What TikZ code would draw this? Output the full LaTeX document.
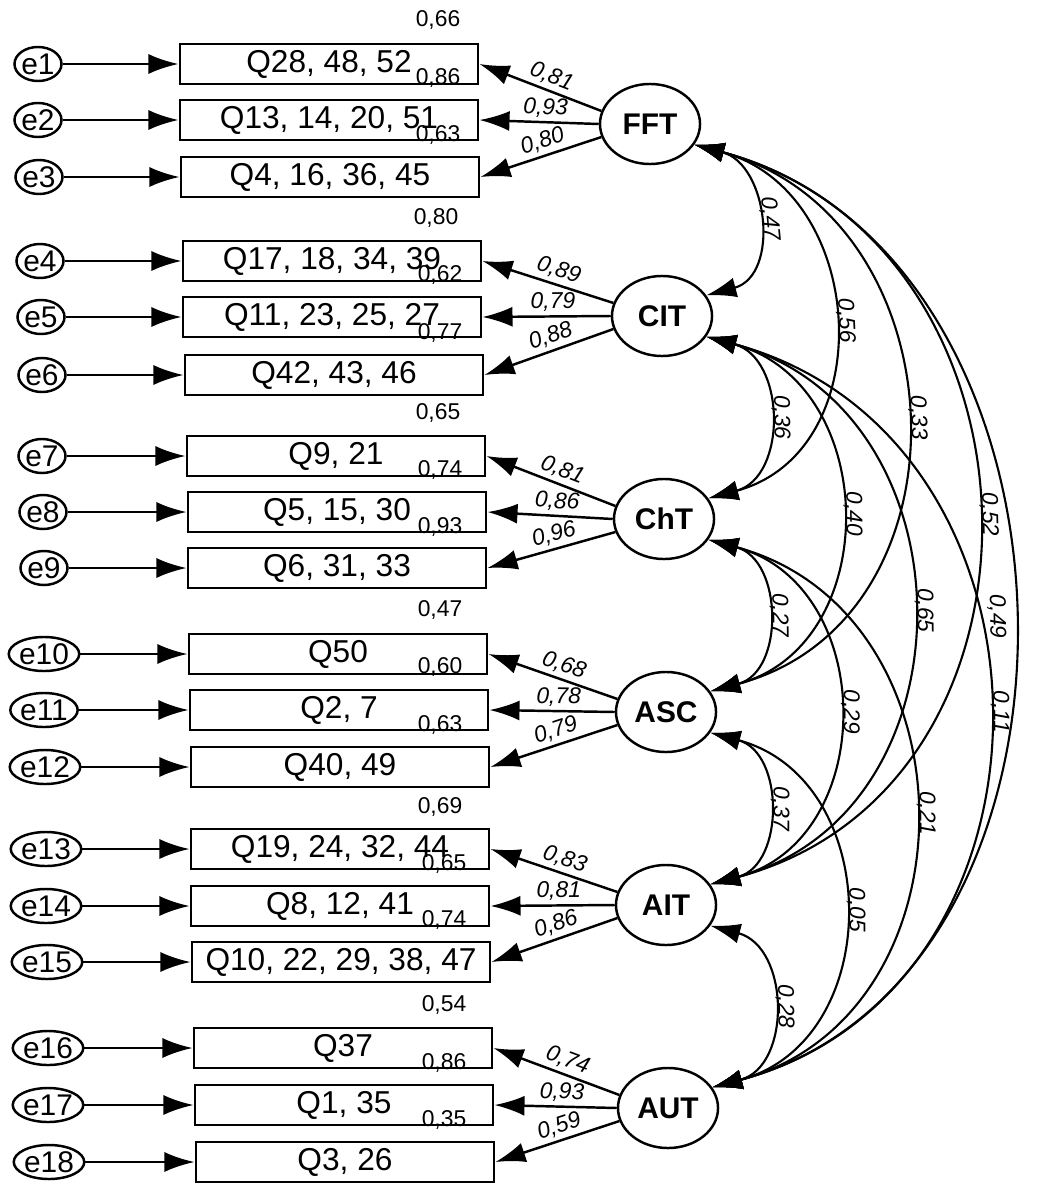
\documentclass[tikz,border=0pt]{standalone}
\usepackage{fontspec}
\setmainfont{Liberation Sans}
\usetikzlibrary{arrows.meta,shapes.geometric}
\begin{document}
\begin{tikzpicture}[
            x=0.01cm, y=0.01cm,
            item/.style={rectangle, draw, line width=0.8pt, minimum width=2.98cm, minimum height=0.40cm, inner sep=0pt, font=\fontsize{9}{10}\selectfont},
            err/.style={ellipse, draw, line width=0.7pt, minimum width=0.44cm, minimum height=0.34cm, inner sep=0pt, font=\fontsize{8.5}{9}\selectfont},
            latent/.style={ellipse, draw, line width=0.7pt, minimum width=1.0cm, minimum height=0.8cm, inner sep=0pt, font=\bfseries\fontsize{8.5}{9}\selectfont},
            rsq/.style={font=\fontsize{6.5}{7}\selectfont},
            coef/.style={font=\itshape\fontsize{6.5}{7}\selectfont, sloped, above, inner sep=1pt},
            line/.style={draw, line width=0.7pt, -{Latex[length=0.3cm, width=0.2cm]}},
            cov/.style={draw, line width=0.6pt, looseness=1.3, {Latex[length=0.3cm, width=0.2cm]}-{Latex[length=0.3cm, width=0.2cm]}}
        ]
        \useasboundingbox (0,0) rectangle (1061,-1200);

        % Latent factors
        \node[latent] (fft) at (650,-124) {FFT};
        \node[latent] (cit) at (662,-316) {CIT};
        \node[latent] (cht) at (664,-519) {ChT};
        \node[latent] (asc) at (666,-712) {ASC};
        \node[latent] (ait) at (666,-905) {AIT};
        \node[latent] (aut) at (668,-1108) {AUT};

        % FFT items
        \node[item] (q1) at (329,-64) {Q28, 48, 52};
        \node[item] (q2) at (329,-120) {Q13, 14, 20, 51};
        \node[item] (q3) at (330,-177) {Q4, 16, 36, 45};
        \node[err] (e1) at (38,-64) {e1};
        \node[err] (e2) at (38,-120) {e2};
        \node[err] (e3) at (39,-177) {e3};
        \node[rsq] at (438,-20) {0,66};
        \node[rsq] at (438,-78) {0,86};
        \node[rsq] at (438,-135) {0,63};

        % CIT items
        \node[item] (q4) at (332,-261) {Q17, 18, 34, 39};
        \node[item] (q5) at (332,-317) {Q11, 23, 25, 27};
        \node[item] (q6) at (334,-375) {Q42, 43, 46};
        \node[err] (e4) at (40,-261) {e4};
        \node[err] (e5) at (41,-317) {e5};
        \node[err] (e6) at (42,-375) {e6};
        \node[rsq] at (436,-218) {0,80};
        \node[rsq] at (440,-275) {0,62};
        \node[rsq] at (440,-333) {0,77};

        % ChT items
        \node[item] (q7) at (336,-456) {Q9, 21};
        \node[item] (q8) at (337,-512) {Q5, 15, 30};
        \node[item] (q9) at (337,-568) {Q6, 31, 33};
        \node[err] (e7) at (42,-456) {e7};
        \node[err] (e8) at (43,-512) {e8};
        \node[err] (e9) at (44,-568) {e9};
        \node[rsq] at (438,-413) {0,65};
        \node[rsq] at (440,-470) {0,74};
        \node[rsq] at (440,-527) {0,93};

        % ASC items
        \node[item] (q10) at (338,-654) {Q50};
        \node[item] (q11) at (339,-710) {Q2, 7};
        \node[item] (q12) at (340,-767) {Q40, 49};
        \node[err] (e10) at (44,-654) {e10};
        \node[err] (e11) at (44,-710) {e11};
        \node[err] (e12) at (45,-767) {e12};
        \node[rsq] at (440,-610) {0,47};
        \node[rsq] at (440,-667) {0,60};
        \node[rsq] at (440,-725) {0,63};

        % AIT items
        \node[item] (q13) at (340,-849) {Q19, 24, 32, 44};
        \node[item] (q14) at (340,-906) {Q8, 12, 41};
        \node[item] (q15) at (341,-962) {Q10, 22, 29, 38, 47};
        \node[err] (e13) at (46,-849) {e13};
        \node[err] (e14) at (46,-906) {e14};
        \node[err] (e15) at (47,-962) {e15};
        \node[rsq] at (440,-807) {0,69};
        \node[rsq] at (444,-864) {0,65};
        \node[rsq] at (444,-920) {0,74};

        % AUT items
        \node[item] (q16) at (343,-1048) {Q37};
        \node[item] (q17) at (344,-1105) {Q1, 35};
        \node[item] (q18) at (345,-1162) {Q3, 26};
        \node[err] (e16) at (48,-1048) {e16};
        \node[err] (e17) at (48,-1105) {e17};
        \node[err] (e18) at (49,-1162) {e18};
        \node[rsq] at (444,-1005) {0,54};
        \node[rsq] at (444,-1063) {0,86};
        \node[rsq] at (444,-1120) {0,35};

        % error paths
        \draw[line] (e1) -- (q1);
        \draw[line] (e2) -- (q2);
        \draw[line] (e3) -- (q3);
        \draw[line] (e4) -- (q4);
        \draw[line] (e5) -- (q5);
        \draw[line] (e6) -- (q6);
        \draw[line] (e7) -- (q7);
        \draw[line] (e8) -- (q8);
        \draw[line] (e9) -- (q9);
        \draw[line] (e10) -- (q10);
        \draw[line] (e11) -- (q11);
        \draw[line] (e12) -- (q12);
        \draw[line] (e13) -- (q13);
        \draw[line] (e14) -- (q14);
        \draw[line] (e15) -- (q15);
        \draw[line] (e16) -- (q16);
        \draw[line] (e17) -- (q17);
        \draw[line] (e18) -- (q18);

        % loadings
        \draw[line] (fft.165) -- node[coef, pos=0.45] {0,81} (q1.east);
        \draw[line] (fft.180) -- node[coef, pos=0.45] {0,93} (q2.east);
        \draw[line] (fft.195) -- node[coef, pos=0.45] {0,80} (q3.east);
        \draw[line] (cit.165) -- node[coef, pos=0.45] {0,89} (q4.east);
        \draw[line] (cit.180) -- node[coef, pos=0.45] {0,79} (q5.east);
        \draw[line] (cit.195) -- node[coef, pos=0.45] {0,88} (q6.east);
        \draw[line] (cht.165) -- node[coef, pos=0.45] {0,81} (q7.east);
        \draw[line] (cht.180) -- node[coef, pos=0.45] {0,86} (q8.east);
        \draw[line] (cht.195) -- node[coef, pos=0.45] {0,96} (q9.east);
        \draw[line] (asc.165) -- node[coef, pos=0.45] {0,68} (q10.east);
        \draw[line] (asc.180) -- node[coef, pos=0.45] {0,78} (q11.east);
        \draw[line] (asc.195) -- node[coef, pos=0.45] {0,79} (q12.east);
        \draw[line] (ait.165) -- node[coef, pos=0.45] {0,83} (q13.east);
        \draw[line] (ait.180) -- node[coef, pos=0.45] {0,81} (q14.east);
        \draw[line] (ait.195) -- node[coef, pos=0.45] {0,86} (q15.east);
        \draw[line] (aut.165) -- node[coef, pos=0.45] {0,74} (q16.east);
        \draw[line] (aut.180) -- node[coef, pos=0.45] {0,93} (q17.east);
        \draw[line] (aut.195) -- node[coef, pos=0.45] {0,59} (q18.east);

        % covariances
        \draw[cov] (fft.-25) to[out=-15, in=15] node[coef, midway] {0,47} (cit.25);
        \draw[cov] (fft.-25) to[out=-15, in=15] node[coef, midway] {0,56} (cht.25);
        \draw[cov] (fft.-25) to[out=-15, in=15] node[coef, midway] {0,33} (asc.25);
        \draw[cov] (fft.-25) to[out=-15, in=15] node[coef, midway] {0,52} (ait.25);
        \draw[cov, looseness=1.15] (fft.-25) to[out=-15, in=15] node[coef, midway, below] {0,49} (aut.25);
        \draw[cov] (cit.-25) to[out=-15, in=15] node[coef, midway] {0,36} (cht.25);
        \draw[cov] (cit.-25) to[out=-15, in=15] node[coef, midway] {0,40} (asc.25);
        \draw[cov] (cit.-25) to[out=-15, in=15] node[coef, midway] {0,65} (ait.25);
        \draw[cov] (cit.-25) to[out=-15, in=15] node[coef, midway] {0,11} (aut.25);
        \draw[cov] (cht.-25) to[out=-15, in=15] node[coef, midway] {0,27} (asc.25);
        \draw[cov] (cht.-25) to[out=-15, in=15] node[coef, midway] {0,29} (ait.25);
        \draw[cov] (cht.-25) to[out=-15, in=15] node[coef, midway] {0,21} (aut.25);
        \draw[cov] (asc.-25) to[out=-15, in=15] node[coef, midway] {0,37} (ait.25);
        \draw[cov] (asc.-25) to[out=-15, in=15] node[coef, midway] {0,05} (aut.25);
        \draw[cov] (ait.-25) to[out=-15, in=15] node[coef, midway] {0,28} (aut.25);

    \end{tikzpicture}
\end{document}
